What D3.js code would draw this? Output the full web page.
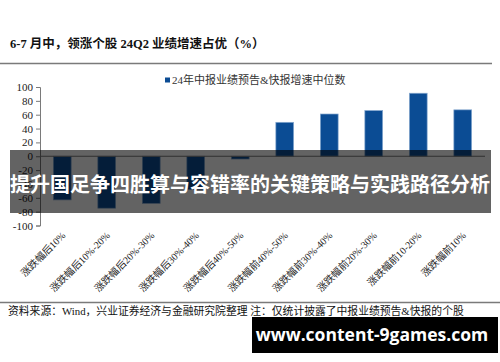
<!DOCTYPE html>
<html>
<head>
<meta charset="utf-8">
<script src="https://cdn.jsdelivr.net/npm/d3@7"></script>
<style>
  html, body { margin: 0; padding: 0; background: #fff; }
  svg { display: block; }
</style>
</head>
<body>
<div id="chart"></div>
<script>
//Datos del gráfico
const categories = ['涨跌幅后10%', '涨跌幅后10%-20%', '涨跌幅后20%-30%', '涨跌幅后30%-40%', '涨跌幅后40%-50%',
    '涨跌幅前40%-50%', '涨跌幅前30%-40%', '涨跌幅前20%-30%', '涨跌幅前10-20%', '涨跌幅前10%'];
const values = [-63, -75, -68, -48, -4, 49, 61, 66, 91, 67];
const yTicks = [100, 80, 60, 40, 20, 0, -20, -40, -60, -80, -100];

const seriesName = '24年中报业绩预告&快报增速中位数';
const titleText = '6-7 月中，领涨个股 24Q2 业绩增速占优（%）';
const sourceText = '资料来源：Wind，兴业证券经济与金融研究院整理  注：仅统计披露了中报业绩预告&快报的个股';
const bannerText = '提升国足争四胜算与容错率的关键策略与实践路径分析';
const watermarkText = 'www.content-9games.com';

//Colores
const COLOR_BAR = '#0b4c94',
    COLOR_BAR_EDGE = '#86a8cf',
    COLOR_LINE = '#7a7a7a',
    COLOR_TEXT = '#222';

const SERIF = '"Liberation Serif", "Times New Roman", "Noto Sans CJK SC", serif';
const SANS = '"Noto Sans CJK SC", "Noto Sans", sans-serif';

const width = 500, height = 362;
const margin = {top: 87, right: 16, bottom: 137, left: 40};

let svg = d3.select('#chart')
    .append('svg')
    .attr('width', width)
    .attr('height', height);

//Título y líneas de separación
svg.append('text')
    .attr('x', 10)
    .attr('y', 48)
    .attr('font-family', SERIF)
    .attr('font-weight', 'bold')
    .attr('font-size', 12.5)
    .attr('fill', '#111')
    .text(titleText);

svg.append('line')
    .attr('x1', 0).attr('x2', 492)
    .attr('y1', 63.5).attr('y2', 63.5)
    .attr('stroke', COLOR_LINE)
    .attr('stroke-width', 1.5);

svg.append('line')
    .attr('x1', 0).attr('x2', 500)
    .attr('y1', 302.5).attr('y2', 302.5)
    .attr('stroke', COLOR_LINE)
    .attr('stroke-width', 1.5);

//Leyenda
svg.append('rect')
    .attr('x', 165).attr('y', 77.5)
    .attr('width', 5).attr('height', 5)
    .attr('fill', COLOR_BAR);

svg.append('text')
    .attr('x', 172)
    .attr('y', 83.5)
    .attr('font-family', SERIF)
    .attr('font-size', 11)
    .attr('fill', '#333')
    .text(seriesName);

//Escalas
let x = d3.scaleBand()
    .domain(categories)
    .range([margin.left, 485])
    .paddingInner(0.6)
    .paddingOuter(0.3);

let y = d3.scaleLinear()
    .domain([-100, 100])
    .range([225.5, 87]);

//Eje Y (guion normal, como en el original)
let yAxis = svg.append('g')
    .attr('transform', 'translate(' + margin.left + ',0)')
    .call(d3.axisLeft(y).tickValues(yTicks).tickSize(4).tickPadding(3).tickFormat(d => String(d)));

yAxis.select('.domain').attr('stroke', COLOR_LINE);
yAxis.selectAll('.tick line').attr('stroke', COLOR_LINE);
yAxis.selectAll('.tick text')
    .attr('font-family', SERIF)
    .attr('font-size', 11)
    .attr('fill', COLOR_TEXT);

//Barras
svg.append('g')
    .selectAll('rect')
    .data(values)
    .enter()
    .append('rect')
    .attr('x', (d, i) => x(categories[i]))
    .attr('y', d => y(Math.max(0, d)))
    .attr('width', x.bandwidth())
    .attr('height', d => Math.abs(y(d) - y(0)))
    .attr('fill', COLOR_BAR)
    .attr('stroke', COLOR_BAR_EDGE)
    .attr('stroke-width', 0.7);

//Línea del cero
svg.append('line')
    .attr('x1', margin.left).attr('x2', 485)
    .attr('y1', y(0)).attr('y2', y(0))
    .attr('stroke', COLOR_LINE)
    .attr('stroke-width', 1);

//Etiquetas del eje X (giradas)
svg.append('g')
    .selectAll('text')
    .data(categories)
    .enter()
    .append('text')
    .attr('transform', d => 'translate(' + (x(d) + x.bandwidth() / 2 + 4) + ',236) rotate(-45)')
    .attr('text-anchor', 'end')
    .attr('font-family', SERIF)
    .attr('font-size', 10)
    .attr('fill', COLOR_TEXT)
    .text(d => d);

//Fuente
svg.append('text')
    .attr('x', 8)
    .attr('y', 315)
    .attr('font-family', SERIF)
    .attr('font-size', 10.8)
    .attr('fill', '#111')
    .text(sourceText);

//Banda superpuesta
svg.append('rect')
    .attr('x', 10).attr('y', 150)
    .attr('width', 481).attr('height', 63)
    .attr('fill', '#000')
    .attr('fill-opacity', 0.61);

svg.append('text')
    .attr('x', 250)
    .attr('y', 192)
    .attr('text-anchor', 'middle')
    .attr('font-family', SANS)
    .attr('font-weight', 'bold')
    .attr('font-size', 20)
    .attr('fill', '#fff')
    .text(bannerText);

//Marca de agua
svg.append('rect')
    .attr('x', 252).attr('y', 317)
    .attr('width', 246).attr('height', 36)
    .attr('fill', '#000');

svg.append('text')
    .attr('x', 372)
    .attr('y', 341)
    .attr('text-anchor', 'middle')
    .attr('font-family', '"Open Sans", "DejaVu Sans", sans-serif')
    .attr('font-weight', 'bold')
    .attr('font-size', 17.5)
    .attr('fill', '#fff')
    .text(watermarkText);
</script>
</body>
</html>
